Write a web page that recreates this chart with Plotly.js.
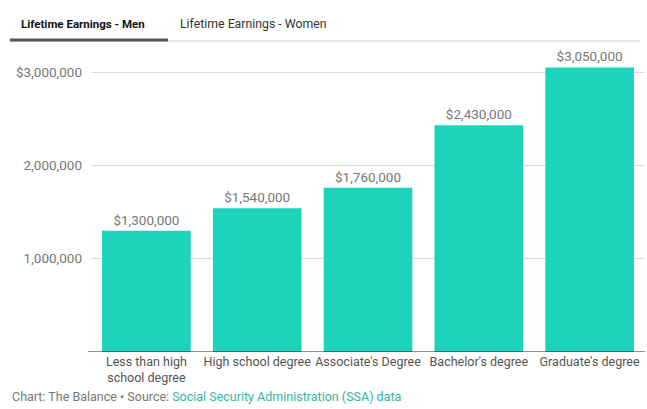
<!DOCTYPE html>
<html><head><meta charset="utf-8">
<script src="https://cdn.plot.ly/plotly-3.0.1.min.js"></script>
<style>html,body{margin:0;padding:0;background:#fff}#chart{width:647px;height:409px}</style>
</head><body><div id="chart"></div>
<script>
const categories = ["Less than high<br>school degree", "High school degree", "Associate's Degree", "Bachelor's degree", "Graduate's degree"];
const earningsMen = [1300000, 1540000, 1760000, 2430000, 3050000];
const tickValues = [1000000, 2000000, 3000000];
const tickLabels = ["1,000,000", "2,000,000", "$3,000,000"];
const tabs = ["Lifetime Earnings - Men", "Lifetime Earnings - Women"];

const W = 647, L = 91, R = 2;
const pw = W - L - R;
const px = v => (v - L) / pw;
const FONT = "Roboto, 'Open Sans', sans-serif";

const labels = earningsMen.map(v => "$" + v.toLocaleString("en-US"));

const trace = {
  type: "bar", x: categories, y: earningsMen,
  marker: {color: "#1dd3bb"},
  text: labels, textposition: "outside",
  textfont: {color: "#777", size: 13.5, family: FONT},
  cliponaxis: false, hoverinfo: "none"
};

const layout = {
  width: 647, height: 409,
  margin: {l: L, r: R, t: 45, b: 57},
  paper_bgcolor: "#fff", plot_bgcolor: "#fff",
  font: {family: FONT, color: "#555"},
  bargap: 0.2,
  showlegend: false,
  xaxis: {
    showgrid: false, zeroline: false, showline: false,
    tickfont: {size: 12.5, color: "#555", family: FONT},
    ticks: "", fixedrange: true
  },
  yaxis: {
    range: [0, 3290000], tickvals: tickValues, ticktext: tickLabels,
    showgrid: true, gridcolor: "#dcdcdc", gridwidth: 1,
    zeroline: false, showline: false,
    tickfont: {size: 13.5, color: "#777", family: FONT},
    ticks: "", ticklen: 0, ticklabelstandoff: 8, fixedrange: true
  },
  shapes: [
    {type: "line", xref: "paper", yref: "y", x0: px(88), x1: px(645), y0: 0, y1: 0, line: {color: "#222", width: 1}},
    {type: "line", xref: "paper", yref: "paper", x0: px(10), x1: px(640), y0: 1 + 4/307, y1: 1 + 4/307, line: {color: "#cfcfcf", width: 1}},
    {type: "line", xref: "paper", yref: "paper", x0: px(10), x1: px(168), y0: 1 + 5/307, y1: 1 + 5/307, line: {color: "#555", width: 3}}
  ],
  annotations: [
    {xref: "paper", yref: "paper", x: px(19), y: 1 + 21/307, xanchor: "left", yanchor: "middle", showarrow: false,
     text: "<b>" + tabs[0] + "</b>", font: {size: 11.5, color: "#111", family: FONT}},
    {xref: "paper", yref: "paper", x: px(178), y: 1 + 21/307, xanchor: "left", yanchor: "middle", showarrow: false,
     text: tabs[1], font: {size: 12.3, color: "#333", family: FONT}},
    {xref: "paper", yref: "paper", x: px(10), y: -44/307, xanchor: "left", yanchor: "middle", showarrow: false,
     text: "Chart: The Balance • Source: <span style='color:#33b6a6'>Social Security Administration (SSA) data</span>",
     font: {size: 12.5, color: "#777", family: FONT}}
  ]
};

Plotly.newPlot("chart", [trace], layout, {displayModeBar: false, staticPlot: true});
</script></body></html>
